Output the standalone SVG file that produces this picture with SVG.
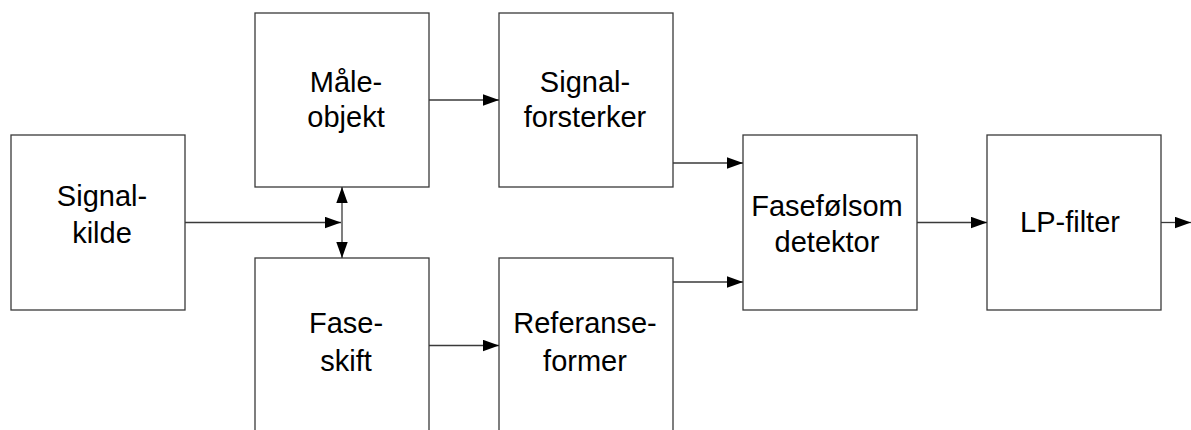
<svg xmlns="http://www.w3.org/2000/svg" width="1191" height="430" viewBox="0 0 1191 430">
  <style>
    .box { fill: #ffffff; stroke: #3a3a3a; stroke-width: 1.3; }
    .lbl { font-family: "Liberation Sans", Arial, sans-serif; font-size: 29px; fill: #000000; text-anchor: middle; }
    .wire { fill: none; stroke: #3a3a3a; stroke-width: 1.3; }
  </style>
  <defs>
    <marker id="arrow" markerUnits="userSpaceOnUse" markerWidth="16" markerHeight="12" refX="14" refY="5" orient="auto-start-reverse" viewBox="0 0 14 10">
      <path d="M0,0 L14,5 L0,10 Z" fill="#000000"/>
    </marker>
  </defs>
  <rect width="1191" height="430" fill="#ffffff"/>

  <g id="signalkilde">
    <rect class="box" x="11" y="135" width="174" height="175"/>
    <text class="lbl" x="102" y="206">Signal-</text>
    <text class="lbl" x="102" y="243">kilde</text>
  </g>

  <g id="maaleobjekt">
    <rect class="box" x="255" y="13" width="174" height="174"/>
    <text class="lbl" x="346" y="91.5">Måle-</text>
    <text class="lbl" x="346" y="127">objekt</text>
  </g>

  <g id="faseskift">
    <rect class="box" x="255" y="258" width="174" height="190"/>
    <text class="lbl" x="346" y="333">Fase-</text>
    <text class="lbl" x="346" y="370.5">skift</text>
  </g>

  <g id="signalforsterker">
    <rect class="box" x="499" y="13" width="174" height="174"/>
    <text class="lbl" x="585" y="91.5">Signal-</text>
    <text class="lbl" x="585" y="127">forsterker</text>
  </g>

  <g id="referanseformer">
    <rect class="box" x="499" y="258" width="174" height="190"/>
    <text class="lbl" x="585" y="333">Referanse-</text>
    <text class="lbl" x="585" y="370.5">former</text>
  </g>

  <g id="fasefolsom-detektor">
    <rect class="box" x="743" y="135" width="174" height="175"/>
    <text class="lbl" x="827" y="216">Fasefølsom</text>
    <text class="lbl" x="827" y="251.5">detektor</text>
  </g>

  <g id="lp-filter">
    <rect class="box" x="987" y="135" width="174" height="175"/>
    <text class="lbl" x="1070" y="231.5">LP-filter</text>
  </g>

  <g id="connectors">
    <line class="wire" x1="185" y1="222.5" x2="341" y2="222.5" marker-end="url(#arrow)"/>
    <line class="wire" x1="342" y1="187" x2="342" y2="258" marker-start="url(#arrow)" marker-end="url(#arrow)"/>
    <line class="wire" x1="429" y1="100" x2="499" y2="100" marker-end="url(#arrow)"/>
    <line class="wire" x1="429" y1="345.5" x2="499" y2="345.5" marker-end="url(#arrow)"/>
    <line class="wire" x1="673" y1="163" x2="743" y2="163" marker-end="url(#arrow)"/>
    <line class="wire" x1="673" y1="282" x2="743" y2="282" marker-end="url(#arrow)"/>
    <line class="wire" x1="917" y1="222.5" x2="987" y2="222.5" marker-end="url(#arrow)"/>
    <line class="wire" x1="1161" y1="222.5" x2="1191" y2="222.5" marker-end="url(#arrow)"/>
  </g>
</svg>
